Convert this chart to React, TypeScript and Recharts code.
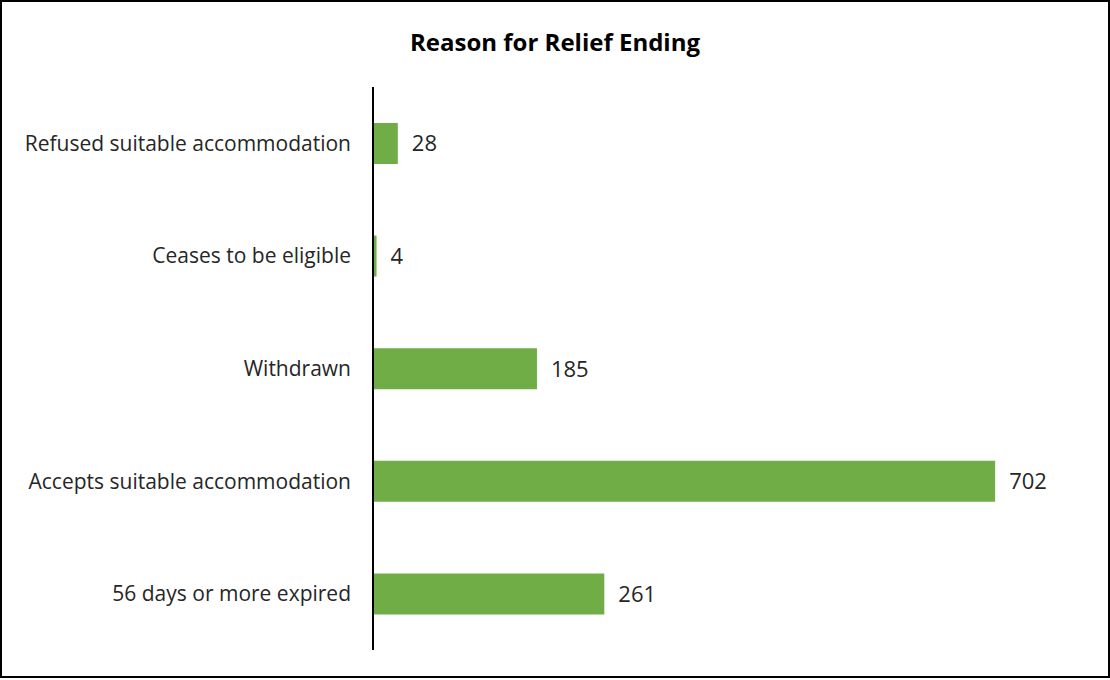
import { BarChart, Bar, XAxis, YAxis, LabelList } from 'recharts';

const reasons = [
  'Refused suitable accommodation',
  'Ceases to be eligible',
  'Withdrawn',
  'Accepts suitable accommodation',
  '56 days or more expired',
];
const counts = [28, 4, 185, 702, 261];

const data = reasons.map((reason, i) => ({ reason, count: counts[i] }));

const font = '"Open Sans", sans-serif';

export default function App() {
  return (
    <div
      style={{
        position: 'absolute',
        left: 0,
        top: 0,
        width: 1110,
        height: 678,
        border: '2px solid #000',
        boxSizing: 'border-box',
        background: '#fff',
        fontFamily: font,
      }}
    >
      <div
        style={{
          position: 'absolute',
          left: 0,
          right: 0,
          top: 23,
          textAlign: 'center',
          fontSize: 24,
          fontWeight: 700,
          color: '#000',
        }}
      >
        Reason for Relief Ending
      </div>
      <BarChart
        width={1106}
        height={674}
        data={data}
        layout="vertical"
        margin={{ top: 85, right: 26, bottom: 26, left: 0 }}
        barSize={41}
      >
        <XAxis type="number" domain={[0, 800]} hide />
        <YAxis
          dataKey="reason"
          type="category"
          width={371}
          tickLine={false}
          tickSize={0}
          tickMargin={22}
          axisLine={{ stroke: '#000', strokeWidth: 2 }}
          tick={{ fontSize: 21, fill: '#262626', fontFamily: font }}
        />
        <Bar dataKey="count" fill="#70AD47" isAnimationActive={false}>
          <LabelList
            dataKey="count"
            position="right"
            offset={14}
            style={{ fontSize: 22, fill: '#262626', fontFamily: font }}
          />
        </Bar>
      </BarChart>
    </div>
  );
}
